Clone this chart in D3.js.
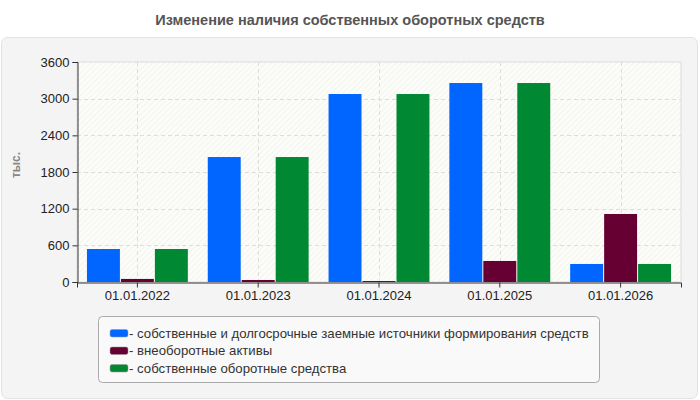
<!DOCTYPE html>
<html>
<head>
<meta charset="utf-8">
<script src="https://cdn.jsdelivr.net/npm/d3@7"></script>
<style>
  body { margin: 0; background: #fff; font-family: Arial, "Liberation Sans", sans-serif; }
</style>
</head>
<body>
<div id="chart"></div>
<script>
var dates = ["01.01.2022", "01.01.2023", "01.01.2024", "01.01.2025", "01.01.2026"];
var seriesNames = [
  "собственные и долгосрочные заемные источники формирования средств",
  "внеоборотные активы",
  "собственные оборотные средства"
];
var ownAndLongTerm = [540, 2045, 3076, 3256, 295];
var nonCurrent = [50, 33, 16, 344, 1113];
var ownCurrent = [540, 2045, 3076, 3256, 295];
var colors = ["#0066ff", "#660033", "#008833"];
var yTicks = [0, 600, 1200, 1800, 2400, 3000, 3600];

var width = 700, height = 400;
var margin = {left: 77, right: 19, top: 62, bottom: 118};
var font = "Arial, 'Liberation Sans', sans-serif";

var svg = d3.select("#chart").append("svg")
    .attr("width", width)
    .attr("height", height)
    .attr("font-family", font);

var defs = svg.append("defs");
var pat = defs.append("pattern")
    .attr("id", "hatch")
    .attr("patternUnits", "userSpaceOnUse")
    .attr("width", 4).attr("height", 4)
    .attr("patternTransform", "rotate(45)");
pat.append("rect").attr("width", 4).attr("height", 4).attr("fill", "#fcfcf9");
pat.append("line").attr("x1", 0).attr("y1", 0).attr("x2", 0).attr("y2", 4)
    .attr("stroke", "#ebebe8").attr("stroke-width", 1);

// outer panel
svg.append("rect")
    .attr("x", 1.5).attr("y", 37.5)
    .attr("width", 696).attr("height", 361)
    .attr("rx", 6)
    .attr("fill", "#f4f4f4")
    .attr("stroke", "#e2e2e2");

svg.append("text")
    .attr("x", 350).attr("y", 25)
    .attr("text-anchor", "middle")
    .attr("font-size", 14.5).attr("font-weight", "bold")
    .attr("fill", "#555")
    .text("Изменение наличия собственных оборотных средств");

var x0 = d3.scaleBand()
    .domain(dates)
    .range([margin.left, width - margin.right])
    .paddingInner(0.165).paddingOuter(0.0825);

var x1 = d3.scaleBand()
    .domain([0, 1, 2])
    .range([0, x0.bandwidth()])
    .paddingInner(0.03);

var y = d3.scaleLinear()
    .domain([0, 3600])
    .range([height - margin.bottom, margin.top]);

var plotW = width - margin.right - margin.left;
var plotH = height - margin.bottom - margin.top;

svg.append("rect")
    .attr("x", margin.left).attr("y", margin.top)
    .attr("width", plotW).attr("height", plotH)
    .attr("fill", "url(#hatch)")
    .attr("stroke", "#dcdcdc");

// grid
svg.append("g")
    .selectAll("line")
    .data(yTicks.slice(1, -1))
    .enter().append("line")
    .attr("x1", margin.left).attr("x2", width - margin.right)
    .attr("y1", function(d) { return Math.round(y(d)) + 0.5; })
    .attr("y2", function(d) { return Math.round(y(d)) + 0.5; })
    .attr("stroke", "#dddddd")
    .attr("stroke-dasharray", "4,3");

svg.append("g")
    .selectAll("line")
    .data(dates)
    .enter().append("line")
    .attr("x1", function(d) { return Math.round(x0(d) + x0.bandwidth() / 2) + 0.5; })
    .attr("x2", function(d) { return Math.round(x0(d) + x0.bandwidth() / 2) + 0.5; })
    .attr("y1", margin.top).attr("y2", height - margin.bottom)
    .attr("stroke", "#dddddd")
    .attr("stroke-dasharray", "4,3");

var seriesValues = [ownAndLongTerm, nonCurrent, ownCurrent];

var groups = svg.append("g")
    .selectAll("g")
    .data(dates)
    .enter().append("g")
    .attr("transform", function(d) { return "translate(" + x0(d) + ",0)"; });

groups.selectAll("rect")
    .data(function(d, i) { return seriesValues.map(function(s, k) { return {k: k, v: s[i]}; }); })
    .enter().append("rect")
    .attr("x", function(d) { return x1(d.k); })
    .attr("width", x1.bandwidth())
    .attr("y", function(d) { return y(d.v); })
    .attr("height", function(d) { return y(0) - y(d.v); })
    .attr("fill", function(d) { return colors[d.k]; });

// axes
var yAxis = svg.append("g")
    .attr("transform", "translate(" + (margin.left + 0.5) + ",0)")
    .call(d3.axisLeft(y).tickValues(yTicks).tickFormat(d3.format("d")).tickSize(5).tickPadding(3));
var xAxis = svg.append("g")
    .attr("transform", "translate(0," + (height - margin.bottom + 0.5) + ")")
    .call(d3.axisBottom(x0).tickSize(5).tickPadding(3));

[yAxis, xAxis].forEach(function(a) {
  a.select(".domain").attr("stroke", "#333");
  a.selectAll(".tick line").attr("stroke", "#333");
  a.selectAll("text").attr("font-size", 13).attr("fill", "#222")
    .attr("font-family", font);
});

svg.append("text")
    .attr("transform", "translate(20,165) rotate(-90)")
    .attr("text-anchor", "middle")
    .attr("font-size", 12).attr("font-weight", "bold")
    .attr("fill", "#888")
    .text("тыс.");

// legend
var legend = svg.append("g");
legend.append("rect")
    .attr("x", 98.5).attr("y", 316.5)
    .attr("width", 501).attr("height", 66)
    .attr("rx", 4)
    .attr("fill", "#f9f9f9")
    .attr("stroke", "#aaaaaa");

var items = legend.selectAll("g")
    .data(seriesNames)
    .enter().append("g")
    .attr("transform", function(d, i) { return "translate(110," + (333 + i * 17.5) + ")"; });

items.append("rect")
    .attr("x", 0).attr("y", -3.5)
    .attr("width", 18).attr("height", 7.5)
    .attr("rx", 2)
    .attr("fill", function(d, i) { return colors[i]; })
    .attr("stroke", "#999").attr("stroke-width", 0.5);

items.append("text")
    .attr("x", 19).attr("y", 4.5)
    .attr("font-size", 13.2).attr("fill", "#333")
    .text(function(d) { return "- " + d; });
</script>
</body>
</html>
